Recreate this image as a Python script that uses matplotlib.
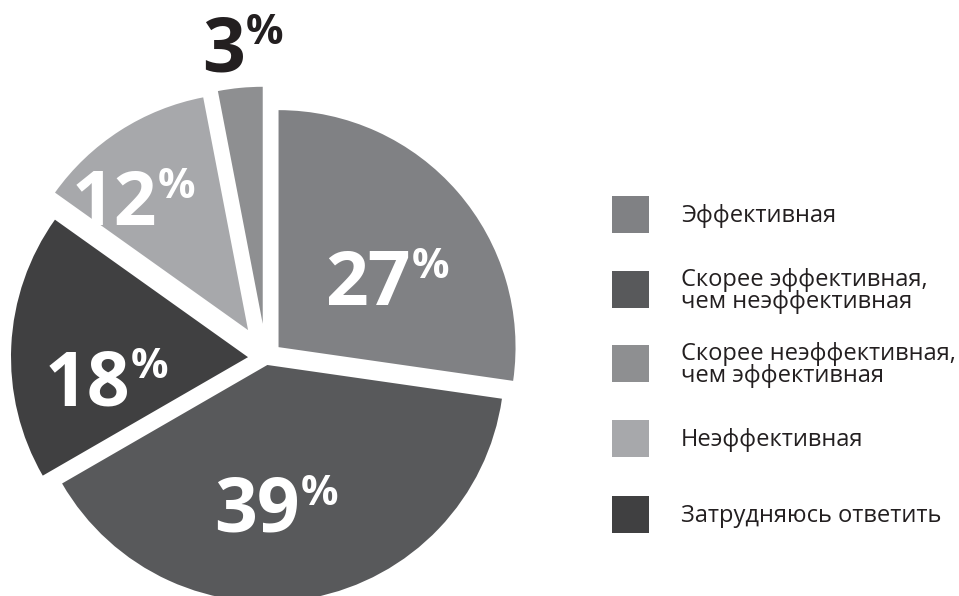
import matplotlib.pyplot as plt
from matplotlib.patches import Rectangle

# data (clockwise from the top)
labels = ["Эффективная", "Скорее эффективная, чем неэффективная", "Затрудняюсь ответить",
          "Неэффективная", "Скорее неэффективная, чем эффективная"]
values = [27, 39, 18, 12, 3]
colors = ["#808184", "#58595b", "#404041", "#a7a8ab", "#8e8f91"]
explode = [0.07, 0.03, 0.076, 0.14, 0.145]  # fraction of radius

# legend order
legend_labels = ["Эффективная", "Скорее эффективная,\nчем неэффективная",
                 "Скорее неэффективная,\nчем эффективная", "Неэффективная", "Затрудняюсь ответить"]
legend_colors = ["#808184", "#58595b", "#8e8f91", "#a7a8ab", "#404041"]

W, H = 959, 596
R = 237
fig = plt.figure(figsize=(W / 100, H / 100), dpi=100)
ax = fig.add_axes([0, 0, 1, 1])

# pie explode is in data units, so scale by the radius
ax.pie(values, colors=colors, explode=[e * R for e in explode], startangle=90,
       counterclock=False, center=(266, H - 358), radius=R,
       wedgeprops=dict(linewidth=0))
ax.set_xlim(0, W)
ax.set_ylim(0, H)
ax.set_aspect("equal")
ax.axis("off")

# percentage labels: (right edge of digits, baseline) in pixels from the top
label_pos = [(411, 305), (300, 532), (130, 405), (157, 225), (245, 71)]
label_col = ["white", "white", "white", "white", "#231f20"]
for v, (x, yb), c in zip(values, label_pos, label_col):
    ax.text(x, H - yb, str(v), ha="right", va="baseline", color=c,
            fontsize=54, fontweight="bold", family="Open Sans")
    ax.text(x + 1, H - yb + 27, "%", ha="left", va="baseline", color=c,
            fontsize=30, fontweight="bold", family="Open Sans")

# legend
tops = [196, 271, 345, 420, 496]
for lab, col, t in zip(legend_labels, legend_colors, tops):
    ax.add_patch(Rectangle((612, H - t - 37), 37, 37, color=col, lw=0))
    ax.text(681, H - t - 20, lab, ha="left", va="center", color="#231f20",
            fontsize=17, family="Open Sans", linespacing=0.93)

fig.savefig("out.png", dpi=100)
